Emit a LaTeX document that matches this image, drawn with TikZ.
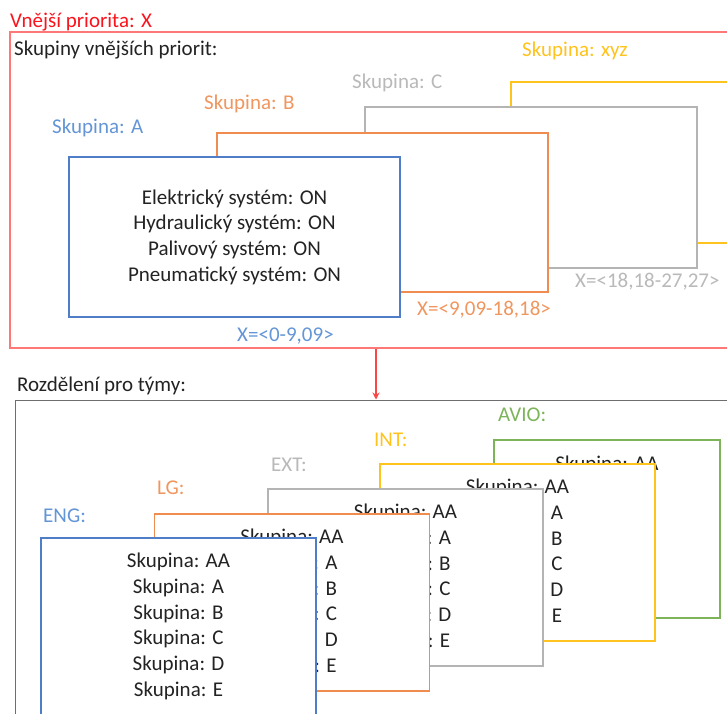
\documentclass[tikz,border=0pt]{standalone}
\usepackage{fontspec}
\setmainfont{Carlito}
\usetikzlibrary{arrows.meta}

\definecolor{cRed}{RGB}{250,20,30}
\definecolor{cRedLine}{RGB}{255,120,120}
\definecolor{cArrow}{RGB}{250,70,70}
\definecolor{cBlue}{RGB}{80,125,200}
\definecolor{cBlueTxt}{RGB}{100,150,215}
\definecolor{cOrange}{RGB}{240,140,80}
\definecolor{cOrangeTxt}{RGB}{240,150,95}
\definecolor{cGray}{RGB}{180,180,180}
\definecolor{cGrayTxt}{RGB}{185,185,185}
\definecolor{cYellow}{RGB}{255,195,30}
\definecolor{cGreen}{RGB}{125,180,90}
\definecolor{cFrame}{RGB}{110,110,110}
\definecolor{cInk}{RGB}{35,35,35}

\newcommand{\txtsize}{\fontsize{21}{25.7}\selectfont}
\newcommand{\grplist}{Skupina: AA\\Skupina: A\\Skupina: B\\Skupina: C\\Skupina: D\\Skupina: E}

\tikzset{
  lbl/.style={anchor=base west, inner sep=0pt, font=\txtsize},
  card/.style={draw, fill=white, line width=1.6pt, inner sep=0pt,
    align=center, font=\txtsize, text=cInk},
  topcard/.style={card, minimum width=331pt, minimum height=160pt},
  teamcard/.style={card, minimum width=275pt, minimum height=177pt},
  frame/.style={draw, inner sep=0pt},
}

\begin{document}
\begin{tikzpicture}[x=1pt, y=-1pt]
\useasboundingbox (0,0) rectangle (727,713);
\clip (0,0) rectangle (727,713);
\fill[white] (0,0) rectangle (727,713);

% ---- outer priority block ----
\node[lbl, text=cRed] (title) at (10,27) {Vnější priorita: X};
\node[frame, draw=cRedLine, line width=1.2pt, minimum width=750pt, minimum height=316pt]
  (outer) at (385,190) {};
\node[lbl, text=cInk] (groupsTitle) at (14,55) {Skupiny vnějších priorit:};

\node[lbl, text=cYellow] (labXYZ) at (522,56) {Skupina: xyz};
\node[topcard, draw=cYellow, minimum width=260pt, minimum height=161pt] (grpXYZ) at (641,162.5) {};

\node[lbl, text=cGrayTxt] (labC) at (352,88) {Skupina: C};
\node[topcard, draw=cGray, minimum width=332pt, minimum height=161pt] (grpC) at (531,187.5) {};

\node[lbl, text=cOrangeTxt] (labB) at (204,109) {Skupina: B};
\node[topcard, draw=cOrange, minimum height=159pt] (grpB) at (382.5,212.5) {};

\node[lbl, text=cBlueTxt] (labA) at (52,133) {Skupina: A};
\node[topcard, draw=cBlue] (grpA) at (234.5,237) {Elektrický systém: ON\\Hydraulický systém: ON\\Palivový systém: ON\\Pneumatický systém: ON};

\node[lbl, text=cBlueTxt] (rngA) at (237,341) {X=<0-9,09>};
\node[lbl, text=cOrangeTxt] (rngB) at (417,315) {X=<9,09-18,18>};
\node[lbl, text=cGrayTxt] (rngC) at (575,287) {X=<18,18-27,27>};

% ---- team split ----
\node[lbl, text=cInk] (teamsTitle) at (17,391) {Rozdělení pro týmy:};
\node[frame, draw=cFrame, line width=1pt, minimum width=745pt, minimum height=340pt]
  (teams) at (387.5,570) {};

\coordinate (ax) at (376,0);
\draw[cArrow, line width=1.2pt, -{Stealth[length=7pt, width=7pt]}]
  (outer.south -| ax) -- (teams.north -| ax);

\node[lbl, text=cGreen] (labAVIO) at (498,421) {AVIO:};
\node[teamcard, draw=cGreen, minimum width=226pt, minimum height=178pt] (avio) at (607,529) {\grplist};

\node[lbl, text=cYellow] (labINT) at (374,446) {INT:};
\node[teamcard, draw=cYellow] (int) at (517.5,552.5) {\grplist};

\node[lbl, text=cGrayTxt] (labEXT) at (271,471) {EXT:};
\node[teamcard, draw=cGray] (ext) at (405.5,577.5) {\grplist};

\node[lbl, text=cOrangeTxt] (labLG) at (157,494) {LG:};
\node[teamcard, draw=cOrange] (lg) at (292,602.5) {\grplist};

\node[lbl, text=cBlueTxt] (labENG) at (43,522) {ENG:};
\node[teamcard, draw=cBlue] (eng) at (178.5,626.5) {\grplist};
\end{tikzpicture}
\end{document}
